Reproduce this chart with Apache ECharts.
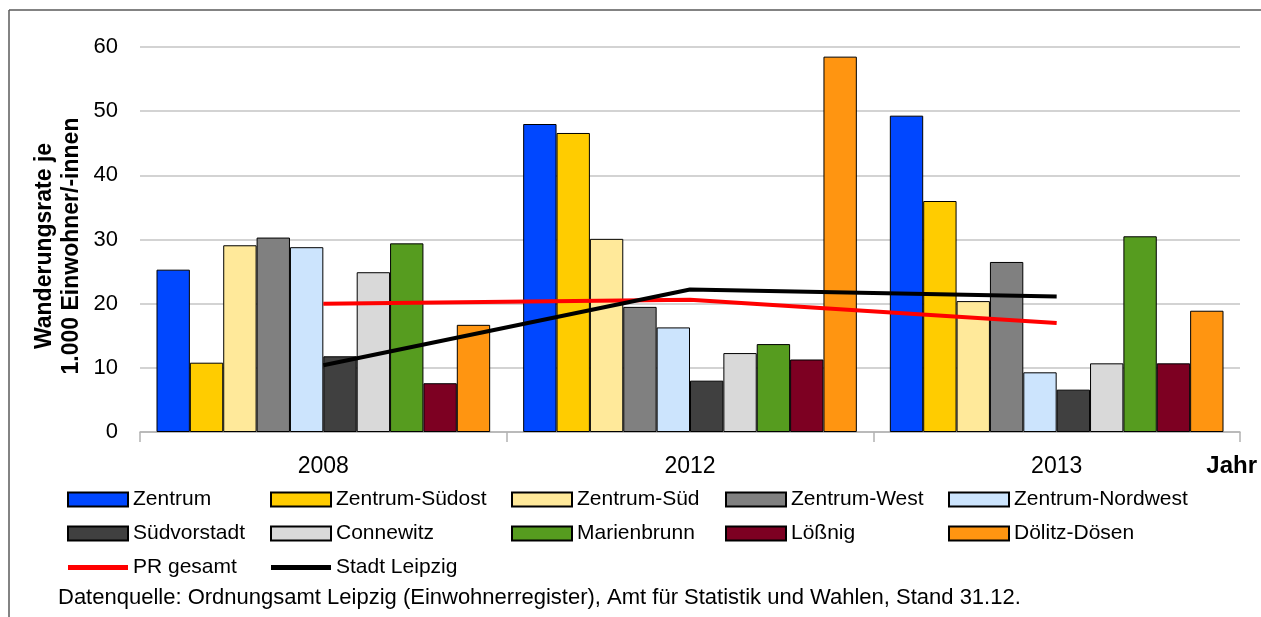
<!DOCTYPE html>
<html>
<head>
<meta charset="utf-8">
<script src="https://cdn.jsdelivr.net/npm/echarts@6/dist/echarts.min.js"></script>
<style>
  html, body { margin: 0; padding: 0; background: #fff; }
  #chart { width: 1261px; height: 617px; }
</style>
</head>
<body>
<div id="chart"></div>
<script>
// Jahre (Kategorien)
var years = ['2008', '2012', '2013'];

// Wanderungsrate je 1.000 Einwohner/-innen
var zentrum        = [25.3, 48.0, 49.3];
var zentrumSuedost = [10.8, 46.6, 36.0];
var zentrumSued    = [29.1, 30.1, 20.4];
var zentrumWest    = [30.3, 19.5, 26.5];
var zentrumNordwest= [28.8, 16.3, 9.3];
var suedvorstadt   = [11.8, 8.0, 6.6];
var connewitz      = [24.9, 12.3, 10.7];
var marienbrunn    = [29.4, 13.7, 30.5];
var loessnig       = [7.6, 11.3, 10.7];
var doelitzDoesen  = [16.7, 58.5, 18.9];
var prGesamt       = [20.0, 20.6, 17.0];
var stadtLeipzig   = [10.4, 22.2, 21.1];

var yTicks = [0, 10, 20, 30, 40, 50, 60];

var FONT = "'Liberation Sans', Arial, sans-serif";
var LINE_ICON = 'path://M0,0H60V5H0Z';

window.onload = function () {
    var chart = echarts.init(document.getElementById('chart'));

    // Balken-Serien
    var bars = [
        ['Zentrum', zentrum, '#0047ff'],
        ['Zentrum-Südost', zentrumSuedost, '#ffcc00'],
        ['Zentrum-Süd', zentrumSued, '#ffe99a'],
        ['Zentrum-West', zentrumWest, '#808080'],
        ['Zentrum-Nordwest', zentrumNordwest, '#cce4fd'],
        ['Südvorstadt', suedvorstadt, '#404040'],
        ['Connewitz', connewitz, '#d9d9d9'],
        ['Marienbrunn', marienbrunn, '#569c1f'],
        ['Lößnig', loessnig, '#7d0022'],
        ['Dölitz-Dösen', doelitzDoesen, '#ff9511']
    ];

    var series = bars.map(function (b) {
        return {
            name: b[0],
            type: 'bar',
            data: b[1],
            barGap: '0%',
            barCategoryGap: '9%',
            itemStyle: { color: b[2], borderColor: '#000', borderWidth: 1 }
        };
    });

    series.push({
        name: 'PR gesamt',
        type: 'line',
        data: prGesamt,
        symbol: 'none',
        z: 5,
        lineStyle: { color: '#ff0000', width: 4 },
        itemStyle: { color: '#ff0000' }
    });
    series.push({
        name: 'Stadt Leipzig',
        type: 'line',
        data: stadtLeipzig,
        symbol: 'none',
        z: 6,
        lineStyle: { color: '#000', width: 4 },
        itemStyle: { color: '#000' }
    });

    function item(name) {
        if (name === 'PR gesamt' || name === 'Stadt Leipzig') {
            return { name: name, icon: LINE_ICON, itemStyle: { borderWidth: 0 } };
        }
        return { name: name, icon: 'rect' };
    }

    // Legende in Spalten
    var cols = [
        [67, ['Zentrum', 'Südvorstadt', 'PR gesamt']],
        [270, ['Zentrum-Südost', 'Connewitz', 'Stadt Leipzig']],
        [511, ['Zentrum-Süd', 'Marienbrunn']],
        [725, ['Zentrum-West', 'Lößnig']],
        [948, ['Zentrum-Nordwest', 'Dölitz-Dösen']]
    ];
    var legends = cols.map(function (c) {
        return {
            left: c[0],
            top: 489,
            orient: 'vertical',
            data: c[1].map(item),
            itemWidth: 60,
            itemHeight: 14,
            itemGap: 13,
            padding: 0,
            selectedMode: false,
            textStyle: { fontFamily: FONT, fontSize: 21, color: '#000', lineHeight: 20 }
        };
    });

    var option = {
        animation: false,
        backgroundColor: '#fff',
        grid: { left: 140, right: 21, top: 47, bottom: 185 },
        legend: legends,
        xAxis: {
            type: 'category',
            data: years,
            axisLine: { lineStyle: { color: '#b3b3b3', width: 1.5 } },
            axisTick: { show: true, length: 10, lineStyle: { color: '#b3b3b3', width: 1.5 } },
            axisLabel: { fontFamily: FONT, fontSize: 23, color: '#000', margin: 23 }
        },
        yAxis: {
            type: 'value',
            min: yTicks[0],
            max: yTicks[yTicks.length - 1],
            interval: 10,
            axisLine: { show: false },
            axisTick: { show: false },
            axisLabel: { fontFamily: FONT, fontSize: 22, color: '#000', margin: 22 },
            splitLine: { lineStyle: { color: '#c4c4c4', width: 1.5 } }
        },
        graphic: [
            { type: 'line', shape: { x1: 9, y1: 10, x2: 1261, y2: 10 }, style: { stroke: '#5a5a5a', lineWidth: 1.5 } },
            { type: 'line', shape: { x1: 9, y1: 10, x2: 9, y2: 617 }, style: { stroke: '#5a5a5a', lineWidth: 1.5 } },
            {
                type: 'text',
                x: 58, y: 246,
                rotation: Math.PI / 2,
                style: {
                    text: 'Wanderungsrate je\n1.000 Einwohner/-innen',
                    font: 'bold 23px ' + FONT,
                    fill: '#000',
                    lineHeight: 27,
                    textAlign: 'center',
                    textVerticalAlign: 'middle'
                }
            },
            {
                type: 'text',
                x: 1257, y: 466,
                style: {
                    text: 'Jahr',
                    font: 'bold 24px ' + FONT,
                    fill: '#000',
                    textAlign: 'right',
                    textVerticalAlign: 'middle'
                }
            },
            {
                type: 'text',
                x: 58, y: 598,
                style: {
                    text: 'Datenquelle: Ordnungsamt Leipzig (Einwohnerregister), Amt für Statistik und Wahlen, Stand 31.12.',
                    font: '22px ' + FONT,
                    fill: '#000',
                    textAlign: 'left',
                    textVerticalAlign: 'middle'
                }
            }
        ],
        series: series
    };

    chart.setOption(option);
};
</script>
</body>
</html>
